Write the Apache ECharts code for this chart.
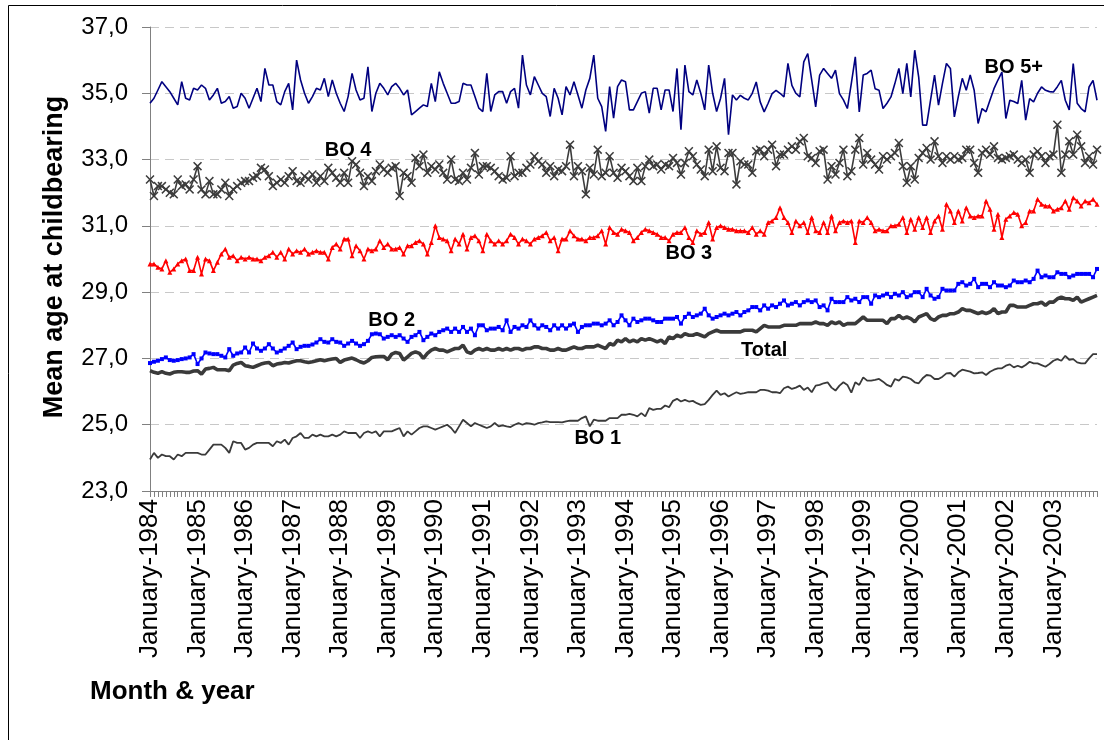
<!DOCTYPE html>
<html><head><meta charset="utf-8">
<script src="https://cdn.jsdelivr.net/npm/echarts@6/dist/echarts.min.js"></script>
<style>html,body{margin:0;padding:0;background:#fff}#c{width:1104px;height:740px}</style>
</head><body><div id="c"></div>
<script>
const monthNames = ['January','February','March','April','May','June','July','August','September','October','November','December'];
const years = [1984,1985,1986,1987,1988,1989,1990,1991,1992,1993,1994,1995,1996,1997,1998,1999,2000,2001,2002,2003];
const yTicks = [23,25,27,29,31,33,35,37];

const bo5 = [
34.7,34.85,35.1,35.35,35.2,35.05,34.85,34.65,35.35,34.85,34.8,35.15,
35.1,35.25,35.15,34.8,34.95,35.15,34.7,34.75,34.9,34.55,34.6,35.0,
34.85,34.55,34.85,35.15,34.75,35.75,35.25,35.25,34.75,34.65,35.05,35.3,
34.5,36.0,35.4,35.0,34.7,34.9,35.15,35.1,35.45,34.9,35.4,35.0,
34.7,34.45,34.9,35.6,35.1,34.8,34.85,35.8,34.45,35.0,35.3,35.15,
34.95,35.2,35.3,35.15,34.95,35.1,34.35,34.45,34.55,34.65,34.6,35.3,
34.75,35.65,35.3,35.0,34.7,34.7,34.75,35.3,35.25,35.25,34.9,34.55,
34.45,35.6,34.45,34.95,35.05,35.05,34.7,35.05,35.15,34.55,36.15,35.25,
34.95,35.5,35.25,35.0,34.9,34.3,35.15,34.85,34.35,35.2,34.95,35.35,
34.95,34.55,35.1,35.45,36.15,34.85,34.6,33.85,35.2,34.25,35.2,35.4,
35.35,34.5,34.5,34.75,35.0,35.05,34.4,35.15,35.15,34.5,35.1,35.1,
34.45,35.75,33.9,35.85,35.05,34.95,35.4,35.0,34.5,35.85,35.0,34.45,
34.85,35.45,33.75,34.95,34.8,34.94,34.85,34.8,35.0,35.34,34.74,34.44,
34.7,34.99,35.09,35.0,34.89,35.9,35.24,35.0,34.89,35.95,36.2,35.4,
34.59,35.55,35.75,35.6,35.45,35.7,34.99,34.8,34.54,35.3,36.1,34.44,
35.55,35.6,35.7,35.14,35.09,34.54,34.7,34.89,35.3,35.75,34.99,35.9,
34.89,36.3,35.49,34.04,34.04,34.8,35.55,34.64,35.3,35.9,35.75,34.29,
34.9,35.45,35.09,35.55,35.09,34.09,34.54,34.44,34.8,35.14,35.4,35.64,
34.24,34.79,34.75,34.69,35.39,34.19,34.84,34.74,35.0,35.19,35.09,35.05,
35.04,35.2,35.39,34.79,34.5,35.9,34.7,34.54,34.44,35.19,35.39,34.79];

const bo4 = [
32.4,31.9,32.2,32.2,32.1,32.0,31.95,32.4,32.2,32.25,32.1,32.4,
32.8,32.1,31.95,32.35,31.95,31.95,32.1,32.3,31.9,32.1,32.2,32.3,
32.35,32.35,32.45,32.5,32.75,32.7,32.5,32.2,32.3,32.4,32.3,32.5,
32.65,32.35,32.3,32.5,32.4,32.55,32.3,32.5,32.35,32.75,32.6,32.45,
32.3,32.6,32.3,32.95,32.85,32.6,32.2,32.5,32.35,32.65,32.85,32.7,
32.6,32.75,32.8,31.9,32.6,32.5,32.3,33.05,32.8,33.15,32.6,32.8,
32.7,32.85,32.6,32.4,33.0,32.4,32.35,32.6,32.4,32.75,33.2,32.55,
32.8,32.8,32.75,32.65,32.5,32.4,32.45,33.1,32.5,32.6,32.6,32.75,
32.85,33.1,32.95,32.85,32.6,32.8,32.5,32.7,32.65,32.8,33.45,32.5,
32.8,32.65,31.95,32.75,32.55,33.3,32.5,32.6,33.1,32.6,32.45,32.75,
32.65,32.5,32.35,32.75,32.35,32.8,33.0,32.8,32.85,32.7,32.85,32.8,
33.05,32.9,32.55,32.9,33.25,33.1,32.85,32.7,32.5,33.3,32.65,33.4,
32.75,32.65,33.2,33.2,32.25,32.95,32.85,32.85,32.6,33.25,33.3,33.1,
33.3,33.45,32.8,33.15,33.15,33.3,33.4,33.3,33.55,33.65,33.1,33.05,
32.9,33.25,33.3,32.4,32.8,32.55,32.9,33.3,32.5,32.65,33.3,33.65,
32.85,33.2,33.0,32.85,32.7,33.1,33.0,33.1,33.2,33.5,32.8,32.3,
32.8,32.4,33.05,33.2,33.35,33.0,33.55,33.1,32.9,33.1,33.0,33.1,
33.0,33.05,33.3,33.3,32.9,32.6,33.2,33.3,33.15,33.4,33.05,33.0,
33.05,33.1,33.15,33.0,32.9,33.0,32.6,33.15,33.25,33.1,32.9,33.1,
33.15,34.05,32.6,33.15,33.55,33.15,33.75,33.4,32.9,33.1,32.85,33.3];

const bo3 = [
29.85,29.85,29.75,29.7,29.95,29.6,29.7,29.85,29.95,30.0,29.65,29.65,
30.05,29.55,30.0,29.95,29.65,29.9,30.15,30.3,30.05,30.1,29.95,30.05,
30.0,30.05,30.0,30.0,29.95,30.05,30.1,30.2,30.05,30.2,30.0,30.3,
30.15,30.25,30.2,30.3,30.15,30.2,30.25,30.2,30.2,30.0,30.35,30.45,
30.3,30.6,30.6,30.1,30.4,30.25,30.0,30.3,30.25,30.3,30.55,30.35,
30.45,30.3,30.3,30.35,30.15,30.4,30.4,30.5,30.55,30.45,30.15,30.5,
31.0,30.65,30.6,30.55,30.25,30.6,30.45,30.75,30.3,30.65,30.7,30.55,
30.25,30.75,30.55,30.45,30.55,30.45,30.55,30.75,30.65,30.45,30.6,30.55,
30.45,30.6,30.65,30.7,30.8,30.55,30.65,30.25,30.6,30.6,30.85,30.7,
30.6,30.6,30.55,30.65,30.65,30.7,30.85,30.45,30.95,30.8,30.75,30.9,
30.85,30.8,30.55,30.65,30.8,30.9,30.85,30.8,30.75,30.65,30.65,30.55,
30.75,30.8,30.8,30.95,30.65,30.5,30.85,30.75,30.8,31.1,30.6,30.95,
31.0,30.95,30.9,30.9,30.85,30.85,30.85,30.8,30.95,30.75,30.85,30.75,
31.1,31.15,31.25,31.55,31.25,31.1,30.8,31.15,31.0,31.1,30.8,31.25,
30.85,30.8,31.1,30.8,31.3,30.85,31.1,31.15,31.1,31.15,30.5,31.15,
31.1,31.25,31.1,30.85,30.9,30.85,30.85,31.0,31.0,31.05,31.25,30.8,
31.2,30.9,31.25,30.95,31.25,30.8,31.15,31.3,30.9,31.65,31.45,31.1,
31.45,31.15,31.55,31.3,31.25,31.3,31.3,31.75,31.5,30.9,31.35,30.65,
31.2,31.3,31.4,31.35,31.0,31.1,31.45,31.45,31.8,31.65,31.6,31.6,
31.45,31.5,31.55,31.75,31.5,31.85,31.75,31.6,31.75,31.7,31.8,31.65];

const bo2 = [
26.86,26.9,26.93,26.98,27.03,26.95,26.93,26.95,26.98,27.0,27.03,27.13,
26.83,27.0,27.18,27.15,27.13,27.13,27.08,27.03,27.28,27.08,27.15,27.18,
27.33,27.18,27.45,27.3,27.23,27.3,27.43,27.3,27.18,27.23,27.3,27.38,
27.48,27.28,27.35,27.38,27.38,27.42,27.48,27.58,27.5,27.48,27.58,27.5,
27.48,27.38,27.45,27.53,27.45,27.38,27.43,27.53,27.73,27.75,27.73,27.6,
27.65,27.7,27.65,27.7,27.6,27.5,27.65,27.7,27.8,27.55,27.65,27.75,
27.7,27.8,27.85,27.9,27.8,27.9,27.8,27.95,27.8,27.9,27.7,28.0,
28.0,27.85,27.9,27.9,27.95,27.85,28.15,27.8,27.95,27.9,28.0,27.95,
28.15,28.0,27.9,28.0,27.95,27.85,28.0,27.9,28.0,27.9,28.0,28.05,
27.8,27.95,28.0,28.0,28.05,28.05,28.0,28.05,28.15,28.0,28.1,28.3,
28.15,28.0,28.2,28.1,28.15,28.2,28.2,28.15,28.1,28.1,28.2,28.2,
28.2,28.25,28.05,28.25,28.35,28.25,28.3,28.35,28.5,28.3,28.2,28.25,
28.3,28.35,28.3,28.35,28.4,28.3,28.4,28.45,28.55,28.55,28.45,28.6,
28.5,28.6,28.55,28.65,28.75,28.6,28.65,28.7,28.6,28.7,28.75,28.7,
28.75,28.55,28.6,28.45,28.8,28.7,28.7,28.7,28.85,28.75,28.8,28.7,
28.85,28.85,28.65,28.9,28.85,28.9,28.95,28.85,28.95,28.9,29.0,28.85,
28.9,29.0,29.0,28.85,29.1,28.9,28.8,28.85,29.1,29.05,29.05,29.05,
29.25,29.3,29.2,29.25,29.4,29.15,29.25,29.25,29.15,29.3,29.2,29.2,
29.15,29.2,29.35,29.3,29.3,29.35,29.3,29.4,29.65,29.45,29.5,29.45,
29.45,29.6,29.55,29.55,29.45,29.5,29.55,29.55,29.55,29.55,29.45,29.7];

const total = [
26.63,26.58,26.55,26.6,26.55,26.53,26.58,26.6,26.6,26.58,26.58,26.62,
26.63,26.53,26.68,26.7,26.73,26.66,26.66,26.66,26.63,26.8,26.85,26.88,
26.78,26.76,26.73,26.78,26.83,26.86,26.88,26.78,26.83,26.85,26.88,26.86,
26.9,26.93,26.93,26.9,26.88,26.9,26.93,26.96,26.93,26.96,26.98,27.0,
26.88,26.95,26.98,27.01,26.96,26.9,26.86,26.93,27.03,27.05,27.06,27.06,
26.96,27.13,27.18,27.15,26.95,27.05,27.15,27.2,27.15,27.0,27.15,27.25,
27.3,27.25,27.25,27.2,27.25,27.3,27.3,27.4,27.2,27.15,27.25,27.3,
27.25,27.3,27.25,27.25,27.3,27.25,27.3,27.25,27.3,27.3,27.25,27.3,
27.3,27.35,27.35,27.3,27.3,27.25,27.25,27.3,27.25,27.25,27.3,27.35,
27.3,27.3,27.35,27.35,27.35,27.4,27.35,27.3,27.45,27.4,27.55,27.5,
27.6,27.5,27.55,27.5,27.6,27.55,27.6,27.55,27.5,27.55,27.45,27.65,
27.6,27.7,27.65,27.75,27.7,27.7,27.75,27.7,27.65,27.75,27.8,27.85,
27.8,27.8,27.8,27.8,27.8,27.8,27.85,27.85,27.85,27.8,27.9,28.0,
27.95,27.95,27.95,27.95,28.0,28.0,28.0,28.0,28.05,28.05,28.05,28.05,
28.1,28.05,28.05,28.0,28.1,28.05,28.1,28.0,28.05,28.05,28.05,28.15,
28.25,28.15,28.15,28.15,28.15,28.15,28.05,28.2,28.2,28.3,28.2,28.25,
28.2,28.1,28.25,28.3,28.35,28.2,28.15,28.25,28.3,28.3,28.35,28.35,
28.4,28.5,28.45,28.45,28.4,28.35,28.4,28.35,28.4,28.5,28.35,28.4,
28.4,28.6,28.6,28.55,28.55,28.55,28.6,28.65,28.65,28.7,28.6,28.7,
28.7,28.8,28.85,28.8,28.8,28.75,28.85,28.7,28.75,28.8,28.85,28.9];

const bo1 = [
23.95,24.15,24.0,24.1,24.05,24.05,23.95,24.1,24.05,24.15,24.15,24.15,
24.15,24.1,24.1,24.25,24.4,24.4,24.4,24.3,24.15,24.5,24.45,24.45,
24.25,24.3,24.4,24.45,24.45,24.45,24.45,24.35,24.5,24.45,24.55,24.4,
24.6,24.65,24.75,24.6,24.6,24.7,24.65,24.7,24.65,24.65,24.7,24.65,
24.7,24.8,24.75,24.75,24.75,24.6,24.75,24.8,24.75,24.8,24.65,24.8,
24.8,24.8,24.85,24.9,24.65,24.8,24.7,24.8,24.9,24.95,24.95,24.9,
24.85,24.9,24.95,25.0,24.9,24.75,24.95,25.15,25.05,24.95,25.05,25.0,
24.95,24.9,24.95,25.05,24.95,24.98,24.95,24.93,25.0,25.05,25.0,25.05,
25.03,25.0,25.05,25.07,25.1,25.08,25.08,25.08,25.07,25.1,25.12,25.12,
25.12,25.2,25.25,24.95,25.15,25.12,25.12,25.12,25.2,25.2,25.2,25.3,
25.3,25.33,25.3,25.25,25.35,25.25,25.5,25.45,25.48,25.48,25.58,25.53,
25.72,25.78,25.7,25.75,25.7,25.72,25.65,25.6,25.62,25.75,25.9,26.03,
25.9,25.95,25.85,25.92,25.98,25.93,25.95,25.98,25.98,25.98,26.05,26.05,
26.03,25.98,25.98,25.95,26.1,26.15,26.08,26.12,26.18,26.05,26.12,25.98,
26.18,26.2,26.25,26.28,26.12,26.03,26.18,26.28,26.2,25.97,26.28,26.2,
26.43,26.33,26.33,26.35,26.38,26.3,26.2,26.15,26.38,26.33,26.45,26.43,
26.38,26.28,26.25,26.4,26.5,26.48,26.38,26.38,26.45,26.55,26.56,26.45,
26.58,26.66,26.63,26.6,26.55,26.56,26.58,26.5,26.6,26.66,26.7,26.7,
26.78,26.82,26.73,26.78,26.73,26.8,26.9,26.85,26.85,26.8,26.75,26.83,
26.93,26.98,26.93,27.08,26.96,26.98,26.88,26.85,26.85,27.0,27.13,27.13];

// series name annotations: [month index, value, text]
const seriesLabels = [[218.3,35.79,'BO 5+'],[50,33.28,'BO 4'],[136.3,30.17,'BO 3'],[61,28.15,'BO 2'],[155.2,27.24,'Total'],[113,24.58,'BO 1']];

const categories = [];
years.forEach(y => monthNames.forEach(m => categories.push(m + '-' + y)));

const FONT = '"Liberation Sans", Arial, sans-serif';
const xShape = 'path://M0,1.2 L1.2,0 L5,3.8 L8.8,0 L10,1.2 L6.2,5 L10,8.8 L8.8,10 L5,6.2 L1.2,10 L0,8.8 L3.8,5 Z';

const chart = echarts.init(document.getElementById('c'), null, {renderer:'canvas'});
chart.setOption({
  animation:false,
  backgroundColor:'#fff',
  grid:{left:150,right:7,top:27,bottom:249,containLabel:false},
  xAxis:{type:'category',data:categories,boundaryGap:false,
    axisLine:{lineStyle:{color:'#808080',width:1}},
    axisTick:{show:true,interval:0,length:6,lineStyle:{color:'#808080'}},
    axisLabel:{interval:11,rotate:90,fontSize:26,color:'#000',fontFamily:FONT,margin:8},
    splitLine:{show:false}},
  yAxis:{type:'value',min:yTicks[0],max:yTicks[yTicks.length-1],interval:2,
    axisLine:{show:true,lineStyle:{color:'#808080',width:1}},
    axisTick:{show:true,length:8,lineStyle:{color:'#808080'}},
    axisLabel:{fontSize:24,color:'#000',fontFamily:FONT,margin:22,formatter:v=>v.toFixed(1).replace('.',',')},
    splitLine:{show:true,lineStyle:{color:'#c8c8c8',type:[9,6],width:1}}},
  series:[
    {name:'BO 5+',type:'line',data:bo5,showSymbol:false,lineStyle:{color:'#000080',width:1.6},itemStyle:{color:'#000080'}},
    {name:'BO 4',type:'line',data:bo4,symbol:xShape,symbolSize:9,showAllSymbol:true,lineStyle:{color:'#3c3c3c',width:1.6},itemStyle:{color:'#3c3c3c'}},
    {name:'BO 3',type:'line',data:bo3,symbol:'triangle',symbolSize:5,showAllSymbol:true,lineStyle:{color:'#ff0000',width:1.6},itemStyle:{color:'#ff0000'}},
    {name:'BO 2',type:'line',data:bo2,symbol:'rect',symbolSize:4,showAllSymbol:true,lineStyle:{color:'#0000ff',width:1.6},itemStyle:{color:'#0000ff'}},
    {name:'Total',type:'line',data:total,showSymbol:false,lineStyle:{color:'#3a3a3a',width:3.6},itemStyle:{color:'#3a3a3a'}},
    {name:'BO 1',type:'line',data:bo1,showSymbol:false,lineStyle:{color:'#3a3a3a',width:1.8},itemStyle:{color:'#3a3a3a'}},
    {name:'labels',type:'scatter',data:seriesLabels,symbolSize:0,silent:true,itemStyle:{opacity:1,color:'#000'},
      label:{show:true,position:'inside',formatter:p=>p.data[2],fontSize:20,fontWeight:'bold',color:'#000',opacity:1,fontFamily:FONT}}
  ],
  graphic:[
    {type:'rect',shape:{x:8.5,y:5.5,width:1200,height:800},style:{fill:'none',stroke:'#000',lineWidth:1},silent:true},
    {type:'text',x:55,y:257,rotation:Math.PI/2,style:{text:'Mean age at childbearing',font:'bold 27px '+FONT,fill:'#000',textAlign:'center',textVerticalAlign:'middle'}},
    {type:'text',x:90,y:692,style:{text:'Month & year',font:'bold 26px '+FONT,fill:'#000',textAlign:'left',textVerticalAlign:'middle'}}
  ]
});
</script></body></html>
